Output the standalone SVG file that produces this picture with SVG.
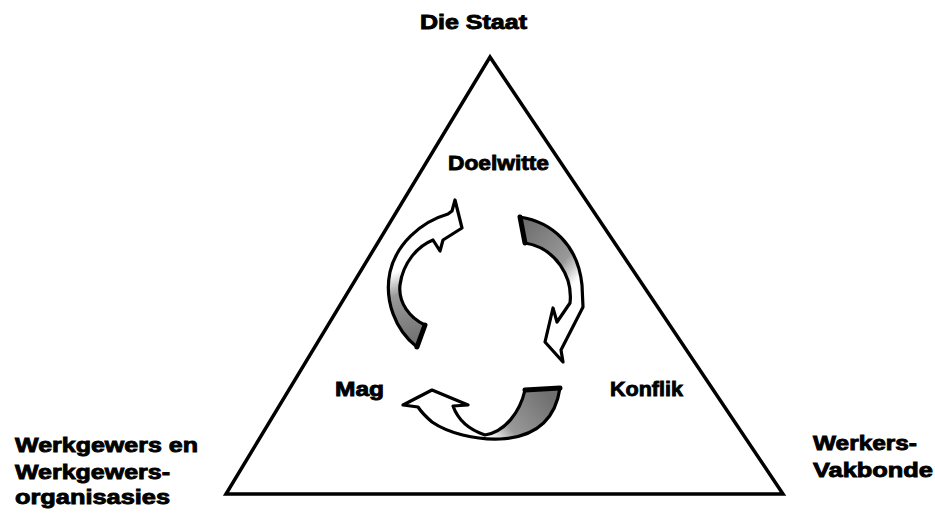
<svg xmlns="http://www.w3.org/2000/svg" width="935" height="517" viewBox="0 0 935 517">
  <defs>
    <style>
      .lbl { font-family: "Liberation Sans", Arial, Helvetica, sans-serif; font-weight: bold; font-size: 21px; fill: #000; stroke: #000; stroke-width: 0.9; }
      .tri { fill: none; stroke: #000; stroke-width: 3.5; stroke-linejoin: miter; }
      .arr { stroke: #000; stroke-width: 3.2; stroke-linejoin: round; }
      .tail { fill: none; stroke: #000; stroke-width: 5; stroke-linecap: round; }
    </style>
    <linearGradient id="g1" gradientUnits="userSpaceOnUse" x1="420" y1="342" x2="396" y2="272">
      <stop offset="0" stop-color="#707070"/>
      <stop offset="0.7" stop-color="#999999"/>
      <stop offset="1" stop-color="#ffffff"/>
    </linearGradient>
    <linearGradient id="g2" gradientUnits="userSpaceOnUse" x1="522" y1="228" x2="579" y2="278">
      <stop offset="0" stop-color="#707070"/>
      <stop offset="0.7" stop-color="#999999"/>
      <stop offset="1" stop-color="#ffffff"/>
    </linearGradient>
    <linearGradient id="g3" gradientUnits="userSpaceOnUse" x1="546" y1="392" x2="490" y2="437">
      <stop offset="0" stop-color="#707070"/>
      <stop offset="0.7" stop-color="#999999"/>
      <stop offset="1" stop-color="#ffffff"/>
    </linearGradient>
  </defs>
  <rect width="935" height="517" fill="#fff"/>

  <g id="triangle">
    <path class="tri" d="M490,57 L783,494 L226,494 Z"/>
  </g>

  <g id="node-staat">
    <text class="lbl" x="420" y="29" textLength="107" lengthAdjust="spacingAndGlyphs">Die Staat</text>
  </g>
  <g id="node-werkgewers">
    <text class="lbl" x="15" y="452" textLength="183" lengthAdjust="spacingAndGlyphs">Werkgewers en</text>
    <text class="lbl" x="15" y="479" textLength="155" lengthAdjust="spacingAndGlyphs">Werkgewers-</text>
    <text class="lbl" x="15" y="504" textLength="155" lengthAdjust="spacingAndGlyphs">organisasies</text>
  </g>
  <g id="node-werkers">
    <text class="lbl" x="813" y="450" textLength="104" lengthAdjust="spacingAndGlyphs">Werkers-</text>
    <text class="lbl" x="813" y="477" textLength="120" lengthAdjust="spacingAndGlyphs">Vakbonde</text>
  </g>
  <g id="node-doelwitte">
    <text class="lbl" x="448" y="170" textLength="101" lengthAdjust="spacingAndGlyphs">Doelwitte</text>
  </g>
  <g id="node-mag">
    <text class="lbl" x="335" y="396" textLength="49" lengthAdjust="spacingAndGlyphs">Mag</text>
  </g>
  <g id="node-konflik">
    <text class="lbl" x="610" y="396" textLength="73" lengthAdjust="spacingAndGlyphs">Konflik</text>
  </g>

  <g id="connectors">
    <path class="arr" fill="url(#g1)" d="M417,347 C395,330 384,300 390,272 C396,245 420,222 448,214 L452,211 L455,200 L462,228 L443,240 L440,251 L433,240 C418,246 403,262 400,285 C398,303 410,318 425,325 Z"/>
    <path class="tail" d="M425,325 L417,347"/>
    <path class="arr" fill="url(#g2)" d="M520,217 C552,222 578,245 582,285 L583,307 L561,350 L563,362 L545,342 L553,308 L557,322 L570,303 C573,277 556,248 525,243 Z"/>
    <path class="tail" d="M525,243 L520,217"/>
    <path class="arr" fill="url(#g3)" d="M525,390 L560,388 C556,415 540,437 500,439 C475,440 448,433 432,422 C425,416 420,410 418,407 L403,405 L432,390 L468,405 L453,406 C458,420 470,430 485,435 C505,432 520,412 525,390 Z"/>
    <path class="tail" d="M525,390 L560,388"/>
  </g>
</svg>
